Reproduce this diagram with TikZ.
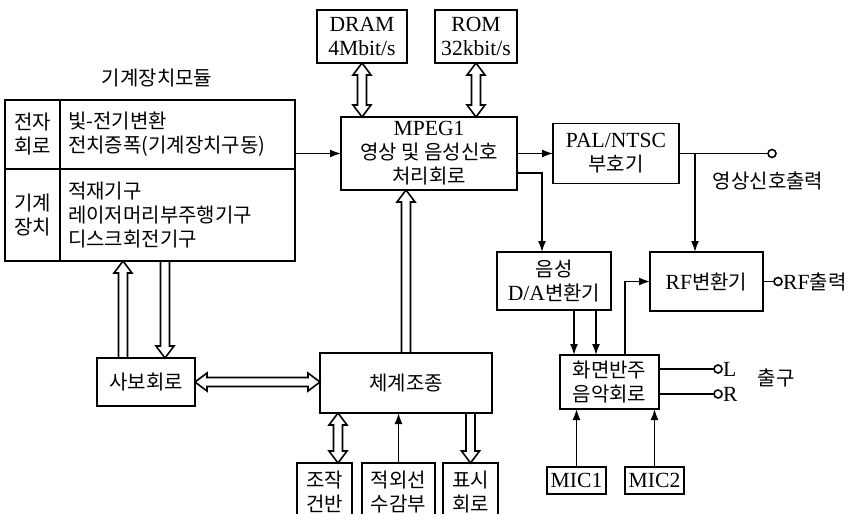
\documentclass[tikz,border=0pt]{standalone}
\usepackage{fontspec}
\setmainfont{Liberation Serif}[Scale=1.08]
\newfontfamily\kr{Noto Sans CJK KR}
\usepackage{tikz}
\usetikzlibrary{arrows.meta,calc}
\newcommand\krfont{\fontsize{20}{24}\selectfont\kr}
\newcommand\latn[1]{{\rmfamily #1}}
\tikzset{
  box/.style={draw,line width=1.6pt,outer sep=0pt,inner sep=2pt,align=center},
  cell/.style={box,anchor=north west,text width=219pt,inner xsep=8pt,align=left},
  conn/.style={line width=1.6pt},
  arr/.style={conn,-{Latex[length=11pt,width=8pt]}},
  term/.style={draw,circle,line width=1.6pt,minimum size=8pt,inner sep=0pt,outer sep=0pt},
  hollow/.style={conn,line join=miter,to path={
    ($(\tikztostart)!4.5pt!90:(\tikztotarget)$)
    -- ($(\tikztotarget)!12pt!(\tikztostart)!4.5pt!90:(\tikztotarget)$)
    -- ($(\tikztotarget)!12pt!(\tikztostart)!9pt!90:(\tikztotarget)$)
    -- (\tikztotarget)
    -- ($(\tikztotarget)!12pt!(\tikztostart)!9pt!-90:(\tikztotarget)$)
    -- ($(\tikztotarget)!12pt!(\tikztostart)!4.5pt!-90:(\tikztotarget)$)
    -- ($(\tikztostart)!4.5pt!-90:(\tikztotarget)$)}},
  hollowboth/.style={conn,line join=miter,to path={
    ($(\tikztostart)!12pt!(\tikztotarget)!4.5pt!90:(\tikztotarget)$)
    -- ($(\tikztotarget)!12pt!(\tikztostart)!4.5pt!90:(\tikztotarget)$)
    -- ($(\tikztotarget)!12pt!(\tikztostart)!9pt!90:(\tikztotarget)$)
    -- (\tikztotarget)
    -- ($(\tikztotarget)!12pt!(\tikztostart)!9pt!-90:(\tikztotarget)$)
    -- ($(\tikztotarget)!12pt!(\tikztostart)!4.5pt!-90:(\tikztotarget)$)
    -- ($(\tikztostart)!12pt!(\tikztotarget)!4.5pt!-90:(\tikztotarget)$)
    -- ($(\tikztostart)!12pt!(\tikztotarget)!9pt!-90:(\tikztotarget)$)
    -- (\tikztostart)
    -- ($(\tikztostart)!12pt!(\tikztotarget)!9pt!90:(\tikztotarget)$)
    -- cycle}}
}

\begin{document}
\begin{tikzpicture}[x=1pt,y=-1pt,font=\krfont]
  \useasboundingbox (0,0) rectangle (857,514);
  % mechanical module
  \node (ttl) at (157,78) {기계장치모듈};
  \node[box,anchor=north west,minimum width=55pt,minimum height=69pt] (ec) at (5,100) {전자\\회로};
  \node[cell,minimum height=69pt] (et) at (ec.north east) {빛-전기변환\\전치증폭(기계장치구동)};
  \node[box,anchor=north west,minimum width=55pt,minimum height=92pt] (mc) at (ec.south west) {기계\\장치};
  \node[cell,minimum height=92pt] (mt) at (mc.north east) {적재기구\\레이저머리부주행기구\\디스크회전기구};
  % memories and decoder
  \node[box,minimum width=90pt,minimum height=53pt] (dram) at (362,36.5) {\latn{DRAM}\\\latn{4Mbit/s}};
  \node[box,minimum width=82pt,minimum height=53pt] (rom) at (476,36.5) {\latn{ROM}\\\latn{32kbit/s}};
  \node[box,minimum width=176pt,minimum height=73pt,inner ysep=1pt] (mpeg) at (429,153.5) {\latn{MPEG1}\\영상 및 음성신호\\처리회로};
  \node[box,minimum width=126pt,minimum height=60pt] (pal) at (616,153.5) {\latn{PAL/NTSC}\\부호기};
  \node[box,minimum width=114pt,minimum height=58pt,inner xsep=0pt] (da) at (554,281) {음성\\\latn{D/A}변환기};
  \node[box,minimum width=113pt,minimum height=59pt] (rf) at (706.5,281.5) {\latn{RF}변환기};
  \node[box,minimum width=99pt,minimum height=54pt] (hwa) at (609.5,382) {화면반주\\음악회로};
  \node[box,minimum width=59pt,minimum height=27pt,inner sep=0pt] (mic1) at (576.5,480.5) {\latn{MIC1}};
  \node[box,minimum width=59pt,minimum height=27pt,inner sep=0pt] (mic2) at (654.5,480.5) {\latn{MIC2}};
  % control part
  \node[box,minimum width=98pt,minimum height=48pt] (sabo) at (146,382) {사보회로};
  \node[box,minimum width=172pt,minimum height=60pt] (che) at (406,383) {체계조종};
  \foreach \nm/\xc/\bw/\tx in {jo/324.5/55/{조작\\건반},jeok/398.5/73/{적외선\\수감부},pyo/470.5/55/{표시\\회로}}
    \node[box,anchor=north,minimum width=\bw pt,minimum height=58pt] (\nm) at (\xc,463) {\tx};
  % terminals
  \node[term] (vout) at (772,153.5) {};
  \node (voutl) at (768,181) {영상신호출력};
  \node[term] (rfout) at (778,281.5) {};
  \node[anchor=west,inner sep=1pt] (rfl) at (rfout.east) {\latn{RF}출력};
  \node[term] (lt) at (718,369) {};
  \node[term] (rt) at (718,394) {};
  \node[anchor=west,inner sep=1pt] (ll) at (lt.east) {\latn{L}};
  \node[anchor=west,inner sep=1pt] (rl) at (rt.east) {\latn{R}};
  \node (outl) at (776,378) {출구};
  % hollow data paths
  \coordinate (s1) at ($(sabo.north)+(-23,0)$);
  \coordinate (s2) at ($(sabo.north)+(19,0)$);
  \draw[hollow] (s1) to (s1 |- mt.south);
  \draw[hollow] (s2 |- mt.south) to (s2);
  \draw[hollowboth] (sabo.east) to (sabo.east -| che.west);
  \draw[hollow] (che.north) to (che.north |- mpeg.south);
  \draw[hollowboth] (dram.south) to (dram.south |- mpeg.north);
  \draw[hollowboth] (rom.south) to (rom.south |- mpeg.north);
  \coordinate (j1) at ($(jo.north)+(13.5,0)$);
  \draw[hollowboth] (j1) to (j1 |- che.south);
  \draw[hollow] (pyo.north |- che.south) to (pyo.north);
  % signal lines
  \draw[arr] (jeok.north) -- (jeok.north |- che.south);
  \draw[arr] (et.east |- mpeg.west) -- (mpeg.west);
  \draw[arr] (mpeg.east) -- (pal.west);
  \coordinate (vj) at ($(pal.east)+(16,0)$);
  \draw[conn] (pal.east) -- (vout.west);
  \draw[arr] (vj) -- (vj |- rf.north);
  \draw[conn] (rf.east) -- (rfout.west);
  \coordinate (aj) at (542,173);
  \draw[arr] (aj -| mpeg.east) -- (aj) -- (aj |- da.north);
  \foreach \dx [count=\i] in {20,42}{
    \coordinate (d\i) at ($(da.south)+(\dx,0)$);
    \draw[arr] (d\i) -- (d\i |- hwa.north);
  }
  \coordinate (h1) at ($(hwa.north)+(15.5,0)$);
  \draw[arr] (h1) |- (rf.west);
  \draw[conn] (lt -| hwa.east) -- (lt.west);
  \draw[conn] (rt -| hwa.east) -- (rt.west);
  \draw[arr] (mic1.north) -- (mic1.north |- hwa.south);
  \draw[arr] (mic2.north) -- (mic2.north |- hwa.south);
\end{tikzpicture}
\end{document}
